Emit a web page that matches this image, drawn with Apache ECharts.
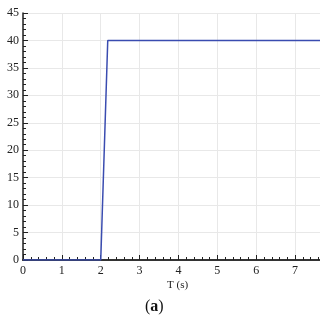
<!DOCTYPE html>
<html><head><meta charset="utf-8">
<script src="https://cdn.jsdelivr.net/npm/echarts@6/dist/echarts.min.js"></script>
<style>html,body{margin:0;padding:0;background:#fff}#c{width:320px;height:320px}</style>
</head><body><div id="c"></div>
<script>
var tValues = [0, 2, 2.18, 7.64];
var yValues = [0, 0, 40, 40];
var xLabel = 'T (s)';
var panelLabel = '(a)';
var font = '"Liberation Serif","Times New Roman",serif';
var chart = echarts.init(document.getElementById('c'));
var data = tValues.map(function(t,i){return [t, yValues[i]];});
chart.setOption({
  animation:false,
  backgroundColor:'#fff',
  grid:{left:23,top:13,right:0,bottom:60},
  xAxis:[{
    type:'value',min:0,max:7.64,interval:1,
    axisLine:{show:true,onZero:false,lineStyle:{color:'#222',width:1.5}},
    axisTick:{show:true,inside:true,length:5,lineStyle:{color:'#222'}},
    minorTick:{show:true,splitNumber:5,length:3,lineStyle:{color:'#222'}},
    axisLabel:{color:'#222',fontFamily:font,fontSize:12,margin:5,showMaxLabel:false},
    splitLine:{show:true,lineStyle:{color:'#e8e8e8'}}
  },{
    type:'value',position:'top',min:0,max:7.64,
    axisLine:{show:true,lineStyle:{color:'#333',width:2}},
    axisTick:{show:false},axisLabel:{show:false},splitLine:{show:false}
  }],
  yAxis:{
    type:'value',min:0,max:45,interval:5,
    axisLine:{show:true,lineStyle:{color:'#222',width:1.5}},
    axisTick:{show:true,inside:true,length:5,lineStyle:{color:'#222'}},
    minorTick:{show:true,splitNumber:5,length:3,lineStyle:{color:'#222'}},
    axisLabel:{color:'#222',fontFamily:font,fontSize:12,margin:4},
    splitLine:{show:true,lineStyle:{color:'#e8e8e8'}}
  },
  graphic:[
    {type:'text',left:167,top:280,style:{text:xLabel,font:'11px '+font,fill:'#222'}},
    {type:'text',left:145,top:299,style:{text:'{p|(}{b|a}{p|)}',rich:{p:{font:'16px '+font,fill:'#111'},b:{font:'bold 16px '+font,fill:'#111'}}}}
  ],
  series:[{
    type:'line',data:data,showSymbol:false,
    lineStyle:{color:'#3a4cb0',width:1.5}
  }]
});
</script></body></html>
